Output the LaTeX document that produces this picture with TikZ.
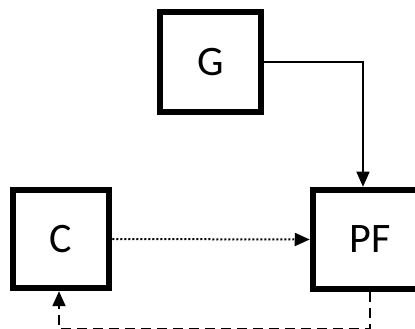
\documentclass[tikz,border=0pt]{standalone}
\usepackage{fontspec}
\setmainfont{Carlito}
\usetikzlibrary{positioning,arrows.meta}

\begin{document}
\begin{tikzpicture}[
x=1pt,y=1pt,
blok/.style={
  draw,
  line width=6.5pt,
  font=\fontsize{42}{44}\selectfont,
  inner sep=0pt
},
tip/.style={
  -{Triangle[length=15pt,width=13pt]}
}
]
\useasboundingbox (0,0) rectangle (415,329);
\clip (0,0) rectangle (415,329);

\node[blok,minimum width=101pt,minimum height=100pt] at (210.5,267)
  (G) {G};
\node[blok,minimum width=96pt,minimum height=98pt] at (61,90)
  (C) {C};
\node[blok,minimum width=114pt,minimum height=99pt] at (370,89.5)
  (PF) {PF};

\draw[tip,line width=1.4pt] (G.east) -| ([xshift=-7pt]PF.north);
\draw[tip,line width=2pt,dotted] (C.east) -- (PF.west);
\draw[tip,line width=2pt,dash pattern=on 10pt off 6pt]
  (PF.south) -- ++(0,-37) -| ([xshift=-2pt]C.south);
\end{tikzpicture}
\end{document}
